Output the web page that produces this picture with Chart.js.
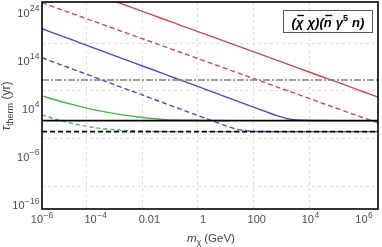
<!DOCTYPE html>
<html><head><meta charset="utf-8">
<script src="https://cdn.jsdelivr.net/npm/chart.js@4"></script>
<style>html,body{margin:0;padding:0;background:#fff}#wrap{width:382px;height:247px;position:relative}</style>
</head><body><div id="wrap"><canvas id="c" width="382" height="247"></canvas></div>
<script>
// ---- axis ranges and ticks ----
const xMin = 1e-6, xMax = 3.3e6;
const yMin = 1.48e-17, yMax = 1.7e26;
const xTickValues = [1e-6, 1e-4, 1e-2, 1, 1e2, 1e4, 1e6];
const xTickLabels = ['10^−6', '10^−4', '0.01', '1', '100', '10^4', '10^6'];
const yTickValues = [1e24, 1e14, 1e4, 1e-6, 1e-16];
const yTickLabels = ['10^24', '10^14', '10^4', '10^−6', '10^−16'];
const xGridValues = [4.4e-5, 5.4e-3, 0.6, 73, 8.9e3];
const yGridValues = [5.6e17, 9.1e7, 9.1e-3, 9.1e-13];

// ---- series (m in GeV, tau in yr) ----
const massRedSolid = [5.6e-4, 1e-3, 1e-2, 0.1, 1, 10, 100, 1e3, 1e4, 1e5, 1e6, 3.3e6];
const tauRedSolid  = [1.9e26, 6.0e25, 5.6e23, 5.2e21, 4.9e19, 4.6e17, 4.3e15, 4.0e13, 3.7e11, 3.5e9, 3.2e7, 2.8e6];

const massRedDashed = [1e-6, 1e-5, 1e-4, 1e-3, 1e-2, 0.1, 1, 10, 100, 1e3, 1e4, 1e5, 1e6, 3.3e6];
const tauRedDashed  = [1.2e26, 1.2e24, 1.2e22, 1.2e20, 1.2e18, 1.2e16, 1.2e14, 1.2e12, 1.2e10, 1.2e8, 1.2e6, 1.2e4, 123, 11.7];

const massBlueSolid = [1e-6, 1e-5, 1e-4, 1e-3, 1e-2, 0.1, 1, 10, 100, 316, 562, 1e3, 1780, 3160, 1e4, 1e5, 1e6, 3.3e6];
const tauBlueSolid  = [4.7e20, 4.0e18, 3.4e16, 2.9e14, 2.5e12, 2.1e10, 1.8e8, 1.5e6, 1.3e4, 1230, 398, 146, 69.7, 47, 37, 36.3, 36.3, 36.3];

const massBlueDashed = [1e-6, 1e-5, 1e-4, 1e-3, 1e-2, 0.1, 1, 3.16, 5.62, 10, 17.8, 31.6, 56.2, 100, 1e3, 1e4, 1e5, 1e6, 3.3e6];
const tauBlueDashed  = [4.3e14, 3.6e12, 3.1e10, 2.6e8, 2.2e6, 1.9e4, 162, 15.1, 4.68, 1.57, 0.60, 0.32, 0.224, 0.198, 0.187, 0.186, 0.186, 0.186, 0.186];

const massGreenSolid = [1e-6, 3.16e-6, 1e-5, 3.16e-5, 1e-4, 3.16e-4, 1e-3, 3.16e-3, 1e-2, 3.16e-2, 0.1, 0.316, 1, 10];
const tauGreenSolid  = [5.1e6, 7.1e5, 1.26e5, 2.37e4, 5.6e3, 1.62e3, 562, 224, 110, 65, 47, 43, 39.4, 36.3];

const massGreenDashed = [1e-6, 3.16e-6, 1e-5, 3.16e-5, 1e-4, 3.16e-4, 1e-3, 3.16e-3, 1e-2, 0.1, 1, 100, 1e4, 1e6, 3.3e6];
const tauGreenDashed  = [562, 75, 14.1, 3.3, 1.15, 0.56, 0.33, 0.25, 0.204, 0.186, 0.186, 0.186, 0.186, 0.186, 0.186];

const massFlat = [1e-6, 3.3e6];
const tauBlackSolid  = [36.3, 36.3];
const tauBlackDashed = [0.186, 0.186];
const tauAgeUniverse = [1e10, 1e10];

const legendText = ['(', 'χ̄', ' ', 'χ', ')(', 'n̄', ' ', 'γ', '5', ' ', 'n', ')'];

function pts(ms, ts){ return ms.map((m,i)=>({x:m, y:ts[i]})); }

const FONT = '"Liberation Sans", Arial, sans-serif';
function drawPow(ctx, label, x, yc, align){
  const parts = label.split('^');
  const base = parts[0], exp = parts[1] || '';
  ctx.font = '11px ' + FONT;
  const wb = ctx.measureText(base).width;
  ctx.font = '8.5px ' + FONT;
  const we = exp ? ctx.measureText(exp).width + 0.5 : 0;
  const total = wb + we;
  const left = align === 'right' ? x - total : x - total/2;
  ctx.textAlign = 'left'; ctx.textBaseline = 'alphabetic';
  ctx.font = '11px ' + FONT;
  ctx.fillText(base, left, yc + 4);
  if (exp){ ctx.font = '8.5px ' + FONT; ctx.fillText(exp, left + wb + 0.5, yc - 1.5); }
}

const deco = {
  id: 'deco',
  beforeDatasetsDraw(chart){
    const {ctx, chartArea:a, scales:{x, y}} = chart;
    ctx.save();
    ctx.strokeStyle = '#dcdcdc'; ctx.lineWidth = 1; ctx.setLineDash([3,3]);
    for (const v of xGridValues){
      const px = Math.round(x.getPixelForValue(v)) + 0.5;
      ctx.beginPath(); ctx.moveTo(px, a.top); ctx.lineTo(px, a.bottom); ctx.stroke();
    }
    for (const v of yGridValues){
      const py = Math.round(y.getPixelForValue(v)) + 0.5;
      ctx.beginPath(); ctx.moveTo(a.left, py); ctx.lineTo(a.right, py); ctx.stroke();
    }
    ctx.restore();
  },
  afterDraw(chart){
    const {ctx, chartArea:a, scales:{x, y}} = chart;
    ctx.save();
    // frame
    ctx.strokeStyle = '#000'; ctx.lineWidth = 1.6; ctx.setLineDash([]);
    ctx.strokeRect(a.left, a.top, a.right - a.left, a.bottom - a.top);
    // tick labels
    ctx.fillStyle = '#4d4d4d';
    xTickValues.forEach((v,i)=> drawPow(ctx, xTickLabels[i], x.getPixelForValue(v), 219, 'center'));
    yTickValues.forEach((v,i)=> drawPow(ctx, yTickLabels[i], 39.5, y.getPixelForValue(v), 'right'));
    // x title
    ctx.fillStyle = '#444';
    ctx.font = 'italic 11.5px ' + FONT; const w1 = ctx.measureText('m').width;
    ctx.font = '8.5px ' + FONT; const w2 = ctx.measureText('χ').width;
    ctx.font = '11.5px ' + FONT; const w3 = ctx.measureText(' (GeV)').width;
    let sx = 211 - (w1 + w2 + w3)/2;
    ctx.textAlign = 'left';
    ctx.font = 'italic 11.5px ' + FONT; ctx.fillText('m', sx, 242);
    ctx.font = '8.5px ' + FONT; ctx.fillText('χ', sx + w1, 244.5);
    ctx.font = '11.5px ' + FONT; ctx.fillText(' (GeV)', sx + w1 + w2, 242);
    // y title
    ctx.save();
    ctx.translate(10, 106); ctx.rotate(-Math.PI/2);
    ctx.font = 'italic 12px ' + FONT; const t1 = ctx.measureText('τ').width;
    ctx.font = '9px ' + FONT; const t2 = ctx.measureText('therm').width;
    ctx.font = '12px ' + FONT; const t3 = ctx.measureText(' (yr)').width;
    let sy = -(t1 + t2 + t3)/2;
    ctx.font = 'italic 12px ' + FONT; ctx.fillText('τ', sy, 0);
    ctx.font = '9px ' + FONT; ctx.fillText('therm', sy + t1, 2.5);
    ctx.font = '12px ' + FONT; ctx.fillText(' (yr)', sy + t1 + t2, 0);
    ctx.restore();
    // legend box
    ctx.fillStyle = '#fff'; ctx.fillRect(283.5, 10.5, 89, 22);
    ctx.strokeStyle = '#555'; ctx.lineWidth = 1; ctx.strokeRect(283.5, 10.5, 89, 22);
    const big = 'bold italic 13px ' + FONT, sup = 'bold 9px ' + FONT;
    const widths = legendText.map((t,i)=>{ ctx.font = (i===8)?sup:big; return ctx.measureText(t.replace('\u0304','')).width + (t===' '?0.5:0); });
    const tot = widths.reduce((s,w)=>s+w,0);
    let lx = 328 - tot/2; const base = 26.5;
    ctx.fillStyle = '#000';
    legendText.forEach((t,i)=>{
      const plain = t.replace('\u0304','');
      if (i===8){ ctx.font = sup; ctx.fillText(plain, lx, base - 5.5); }
      else { ctx.font = big; ctx.fillText(plain, lx, base); }
      if (t.includes('\u0304')){
        ctx.strokeStyle = '#000'; ctx.lineWidth = 1.4;
        ctx.beginPath(); ctx.moveTo(lx + 1.5, base - 11); ctx.lineTo(lx + widths[i] + 0.5, base - 11); ctx.stroke();
      }
      lx += widths[i];
    });
    ctx.restore();
  }
};

const RED = '#c0504d', BLUE = '#4b4bc3', GREEN = '#4bb34b';
function ds(ms, ts, color, dash, width, order){
  return { data: pts(ms, ts), borderColor: color, borderWidth: width, borderDash: dash,
           pointRadius: 0, fill: false, cubicInterpolationMode: 'monotone', order: order };
}

new Chart(document.getElementById('c'), {
  type: 'line',
  data: { datasets: [
    ds(massFlat, tauBlackSolid, '#000', [], 1.6, 0),
    ds(massFlat, tauBlackDashed, '#000', [5,3], 1.6, 0),
    ds(massFlat, tauAgeUniverse, '#808080', [7,2,2,2], 1.3, 1),
    ds(massRedSolid, tauRedSolid, RED, [], 1.4, 2),
    ds(massRedDashed, tauRedDashed, RED, [5,3], 1.4, 2),
    ds(massBlueSolid, tauBlueSolid, BLUE, [], 1.4, 2),
    ds(massBlueDashed, tauBlueDashed, BLUE, [5,3], 1.4, 2),
    ds(massGreenSolid, tauGreenSolid, GREEN, [], 1.4, 3),
    ds(massGreenDashed, tauGreenDashed, GREEN, [4,3], 1.4, 3)
  ]},
  options: {
    responsive: false, devicePixelRatio: 1, animation: false,
    layout: { padding: { top: 2, right: 4, left: 0, bottom: 0 } },
    plugins: { legend: { display: false }, tooltip: { enabled: false } },
    scales: {
      x: { type: 'logarithmic', min: xMin, max: xMax, bounds: 'data',
           ticks: { display: false }, grid: { display: false }, border: { display: false },
           afterFit(s){ s.height = 38; } },
      y: { type: 'logarithmic', min: yMin, max: yMax, bounds: 'data',
           ticks: { display: false }, grid: { display: false }, border: { display: false },
           afterFit(s){ s.width = 42; } }
    }
  },
  plugins: [deco]
});
</script>
</body></html>
